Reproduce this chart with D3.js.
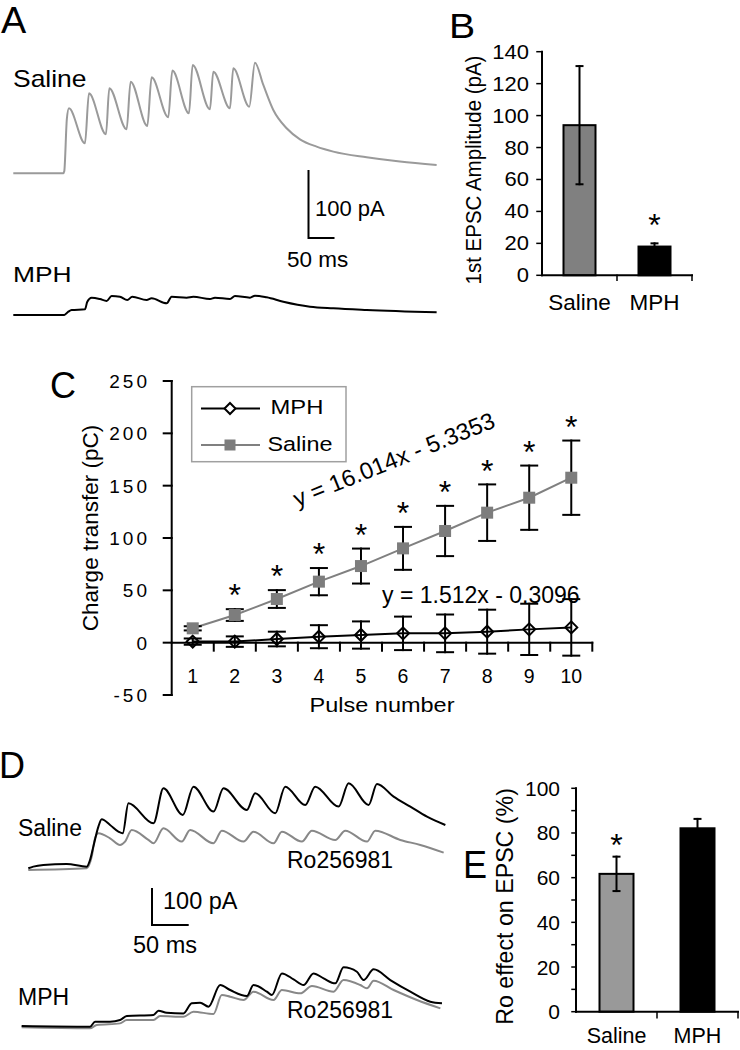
<!DOCTYPE html>
<html><head><meta charset="utf-8">
<script src="https://cdn.jsdelivr.net/npm/d3@7"></script>
<style>
body{margin:0;background:#fff}
text{font-family:"Liberation Sans",Arial,sans-serif;fill:#000}
</style>
</head><body>
<svg id="fig" width="740" height="1050"></svg>
<script>
// ---------------- DATA ----------------
// Panel A traces: [time ms, current pA]
const traceASaline = [[0,0],[96,0],[98,3],[103,80],[107,95.6],[137.8,44.1],[145.5,117.6],[178.2,57.4],[184.6,125],[217.9,64.7],
  [225.6,134.8],[257.7,69.6],[266,141.2],[298,82.4],[305.8,151],[337.8,88.2],[344.9,159.3],[378.2,94.1],[384.6,149.5],
  [416.7,95.6],[423,154.4],[453.8,98],[464.7,162.7],[480.8,129.9],[500,93.1],[525.6,66.2],[551.3,50],[583.3,39.2],
  [615.4,31.9],[679.5,23.5],[743.6,17.2],[814.1,12.3]];
const traceAMph = [[0,0],[98,0],[105.8,4.9],[112.2,7.4],[137.8,8.3],[142.3,19.6],[150.6,25.5],[166.7,23.5],[179.5,20.6],
  [189.1,27.9],[205.1,26.9],[219.2,22.1],[228.8,26.9],[256.4,22.1],[266,24.5],[294.9,17.2],[304.5,26.9],[333.3,25.5],
  [346.2,26.9],[378.2,23.5],[387.8,25.5],[416.7,23.5],[426.3,27.9],[455.1,25.5],[464.7,28.4],[487.2,26],[519.2,19.6],
  [570.5,12.3],[615.4,9.8],[679.5,7.4],[814.1,3.9]];

// Panel B
const bCategories = ["Saline","MPH"];
const bValues = [94, 18];
const bErrors = [37, 2];
const bTicks = [0,20,40,60,80,100,120,140];
const bSignificant = [false, true];

// Panel C
const pulses = [1,2,3,4,5,6,7,8,9,10];
const mphCharge = [1, 1, 3.5, 5.7, 7.3, 8.9, 8.9, 10.5, 12.7, 14.6];
const mphErr = [3, 5, 7, 11, 13, 16, 18, 21, 24.5, 27];
const salineCharge = [13.7, 26.4, 41.7, 58.3, 73.2, 90.1, 106.7, 124.2, 138.5, 157.6];
const salineErr = [2, 5.6, 8.5, 13, 16.7, 20.5, 24, 27, 30.7, 35.5];
const salineSignificant = [false, true, true, true, true, true, true, true, true, true];
const cTicks = [-50, 0, 50, 100, 150, 200, 250];
const fitSaline = "y = 16.014x - 5.3353";
const fitMph = "y = 1.512x - 0.3096";

// Panel D traces: [time ms, current pA]
const traceDSalineCtrl = [[0,0],[6.8,4.5],[20.5,9],[52.3,11.7],[79.5,4.5],[84.1,22.5],[88.6,58.6],[95.5,112.6],[100,132.4],
  [111.4,117.1],[122.7,99.1],[128.6,94.6],[136.4,175.7],[170.5,121.6],[184.1,216.2],[210.5,144.1],[225,220.7],
  [252.3,153.2],[265.9,216.2],[297.7,157.7],[309.1,202.7],[336.4,148.6],[350,220.7],[377.3,171.2],[390.9,220.7],
  [422.7,166.7],[436.4,229.7],[463.6,171.2],[475,227.9],[497.7,193.7],[520.5,166.7],[543.2,139.6],[568.2,117.1]];
const traceDSalineRo = [[0,-4.5],[79.5,0],[86.4,31.5],[90.9,81.1],[95.5,94.6],[111.4,81.1],[125,63.1],[131.8,72.1],
  [140.9,103.6],[163.6,76.6],[170.5,67.6],[184.1,108.1],[209.1,72.1],[220.5,103.6],[252.3,67.6],[263.6,101.8],
  [293.2,72.1],[306.8,99.1],[334.1,67.6],[345.5,99.1],[372.7,72.1],[386.4,101.8],[418.2,76.6],[431.8,101.8],
  [461.4,72.1],[472.7,101.8],[506.8,76.6],[534.1,63.1],[565.9,42.3]];
const traceDMphCtrl = [[-9.1,1.8],[84.1,0],[90.9,13.5],[111.4,13.5],[125,18],[134.1,28.8],[170.5,31.5],[177.3,43.2],
  [188.6,37.8],[211.4,36],[222.7,63.1],[234.1,64.9],[245.5,54.1],[261.4,112.6],[275,99.1],[297.7,82.9],[306.8,112.6],
  [325,94.6],[331.8,85.6],[345.5,144.1],[361.4,127.9],[375,112.6],[388.6,144.1],[402.3,130.6],[418.2,117.1],
  [429.5,160.4],[447.7,148.6],[456.8,126.1],[470.5,155],[493.2,126.1],[520.5,94.6],[547.7,67.6],[563.6,63.1]];
const traceDMphRo = [[-9.1,-1.8],[84.1,-4.5],[93.2,4.5],[125,9],[134.1,18],[170.5,18],[179.5,28.8],[211.4,27],
  [225,40.5],[252.3,34.2],[263.6,85.6],[275,81.1],[293.2,72.1],[306.8,94.6],[334.1,72.1],[345.5,99.1],[370.5,90.1],
  [386.4,109.9],[415.9,94.6],[429.5,126.1],[452.3,112.6],[461.4,103.6],[470.5,124.3],[497.7,99.1],[529.5,72.1],[561.4,49.5]];

// Panel E
const eCategories = ["Saline","MPH"];
const eValues = [61.7, 82.1];
const eErrors = [7.7, 4.2];
const eTicks = [0,20,40,60,80,100];
const eMinorTicks = [0,10,20,30,40,50,60,70,80,90,100];
const eSignificant = [true, false];

// Scale bars
const scaleBarPA = 100, scaleBarMS = 50;

// ---------------- DRAW ----------------
const svg = d3.select("#fig");

function txt(x, y, s, size, opt = {}) {
  const t = svg.append("text").attr("font-size", size).text(s)
    .attr("text-anchor", opt.anchor || "start");
  const sx = opt.sx || 1, sy = opt.sy || 1, rot = opt.rot || 0;
  t.attr("transform", `translate(${x},${y}) rotate(${rot}) scale(${sx},${sy})`);
  if (opt.ls) t.attr("letter-spacing", opt.ls);
  if (opt.fill) t.style("fill", opt.fill);
  return t;
}
function line(x1, y1, x2, y2, w = 2, c = "#000") {
  svg.append("line").attr("x1", x1).attr("y1", y1).attr("x2", x2).attr("y2", y2)
    .attr("stroke", c).attr("stroke-width", w).attr("stroke-linecap", "square");
}
function trace(data, xs, ys, color, w = 2) {
  svg.append("path").datum(data)
    .attr("d", d3.line().x(d => xs(d[0])).y(d => ys(d[1])).curve(d3.curveMonotoneX))
    .attr("fill", "none").attr("stroke", color).attr("stroke-width", w).attr("stroke-linejoin", "round");
}
function star(x, yCenter, size = 32) {
  txt(x, yCenter + size * 0.57, "*", size, {anchor: "middle"});
}

// ===== Panel A =====
const xA = d3.scaleLinear().domain([0, 50]).range([13.3, 39.3]);
const yASal = d3.scaleLinear().domain([0, 100]).range([173.3, 105.3]);
const yAMph = d3.scaleLinear().domain([0, 100]).range([315, 247]);
txt(1, 33, "A", 36, {sx: 1.05});
txt(13, 87, "Saline", 23, {sx: 1.15});
txt(13, 282, "MPH", 22, {sx: 1.2});
trace(traceASaline, xA, yASal, "#9a9a9a", 2);
trace(traceAMph, xA, yAMph, "#000", 2);
{
  const ox = 308.5, oy = 238;
  const h = yASal(0) - yASal(scaleBarPA), w = xA(scaleBarMS) - xA(0);
  svg.append("path").attr("d", `M${ox},${oy - h}V${oy}H${ox + w}`).attr("fill", "none").attr("stroke", "#000").attr("stroke-width", 2);
  txt(315, 216, scaleBarPA + " pA", 22);
  txt(287, 267, scaleBarMS + " ms", 22.5);
}

// ===== Panel B =====
txt(449, 38, "B", 35, {sx: 1.12});
const xB = d3.scaleBand().domain(bCategories).range([542, 692]);
const yB = d3.scaleLinear().domain([0, 140]).range([275.3, 51.7]);
{
  const barW = 32;
  const fills = ["#808080", "#000"];
  bCategories.forEach((c, i) => {
    const cx = xB(c) + xB.bandwidth() / 2;
    svg.append("rect").attr("x", cx - barW / 2).attr("y", yB(bValues[i]))
      .attr("width", barW).attr("height", yB(0) - yB(bValues[i]))
      .attr("fill", fills[i]).attr("stroke", "#000").attr("stroke-width", 2);
    line(cx, yB(bValues[i] + bErrors[i]), cx, yB(bValues[i] - bErrors[i]), 2);
    line(cx - 3, yB(bValues[i] + bErrors[i]), cx + 3, yB(bValues[i] + bErrors[i]), 2);
    line(cx - 3, yB(bValues[i] - bErrors[i]), cx + 3, yB(bValues[i] - bErrors[i]), 2);
    if (bSignificant[i]) star(cx, yB(bValues[i] + bErrors[i]) - 26);
    txt(cx, 310, c, 22.5, {anchor: "middle"});
  });
  line(542, yB(140), 542, yB(0), 2);
  line(542, yB(0), 692, yB(0), 2);
  bTicks.forEach(v => {
    line(537, yB(v), 542, yB(v), 1.5);
    txt(529, yB(v) + 7, String(v), 20, {anchor: "end", sx: 1.1});
  });
  [xB("MPH"), 692].forEach(x => line(x, yB(0), x, yB(0) + 5, 1.5));
  txt(481, 170, "1st EPSC Amplitude (pA)", 20.5, {anchor: "middle", rot: -90, sy: 1.12});
}

// ===== Panel C =====
txt(50, 398, "C", 36);
const xC = d3.scaleBand().domain(pulses).range([171.7, 592.3]);
const yC = d3.scaleLinear().domain([-50, 250]).range([695, 381]);
const cx = p => xC(p) + xC.bandwidth() / 2;
{
  line(171.7, yC(250), 171.7, yC(-50), 2);
  line(171.7, yC(0), 592.3, yC(0), 2);
  cTicks.forEach(v => {
    line(163.7, yC(v), 171.7, yC(v), 2);
    txt(150, yC(v) + 7, String(v), 19, {anchor: "end", ls: 3});
  });
  pulses.forEach(p => {
    line(xC(p) + xC.bandwidth(), yC(0), xC(p) + xC.bandwidth(), yC(0) + 8, 2);
    txt(cx(p), 683, String(p), 19.5, {anchor: "middle"});
  });
  txt(382, 712, "Pulse number", 21, {anchor: "middle", sx: 1.12});
  txt(98, 528, "Charge transfer (pC)", 22.5, {anchor: "middle", rot: -90});

  // connecting lines
  svg.append("path").datum(pulses)
    .attr("d", d3.line().x(p => cx(p)).y((p, i) => yC(salineCharge[i])))
    .attr("fill", "none").attr("stroke", "#808080").attr("stroke-width", 2);
  svg.append("path").datum(pulses)
    .attr("d", d3.line().x(p => cx(p)).y((p, i) => yC(mphCharge[i])))
    .attr("fill", "none").attr("stroke", "#000").attr("stroke-width", 2);

  const cap = 8;
  // MPH error bars + diamonds
  pulses.forEach((p, i) => {
    const x = cx(p), t = yC(mphCharge[i] + mphErr[i]), b = yC(mphCharge[i] - mphErr[i]);
    line(x, t, x, b, 2); line(x - cap, t, x + cap, t, 2); line(x - cap, b, x + cap, b, 2);
    const y = yC(mphCharge[i]), r = 6;
    svg.append("path").attr("d", `M${x},${y - r}L${x + r},${y}L${x},${y + r}L${x - r},${y}Z`)
      .attr("fill", "none").attr("stroke", "#000").attr("stroke-width", 2);
  });
  // Saline error bars + squares
  pulses.forEach((p, i) => {
    const x = cx(p), t = yC(salineCharge[i] + salineErr[i]), b = yC(salineCharge[i] - salineErr[i]);
    line(x, t, x, b, 2); line(x - cap, t, x + cap, t, 2); line(x - cap, b, x + cap, b, 2);
    const y = yC(salineCharge[i]), s = 12;
    svg.append("rect").attr("x", x - s / 2).attr("y", y - s / 2).attr("width", s).attr("height", s)
      .attr("fill", "#7d7d7d");
    if (salineSignificant[i]) star(x, t - 21);
  });

  // fit equations
  txt(0, 8, fitSaline, 23.5, {anchor: "middle"}).attr("transform", "translate(397,467) rotate(-22)");
  txt(382, 603, fitMph, 23);

  // legend
  svg.append("rect").attr("x", 191.7).attr("y", 386.7).attr("width", 154.3).attr("height", 75)
    .attr("fill", "#fff").attr("stroke", "#a0a0a0").attr("stroke-width", 1.5);
  line(202, 408.5, 259, 408.5, 2, "#000");
  svg.append("path").attr("d", "M230,403L235.5,408.5L230,414L224.5,408.5Z").attr("fill", "#fff").attr("stroke", "#000").attr("stroke-width", 2);
  txt(270.5, 413.5, "MPH", 19.5, {sx: 1.22});
  line(202, 445, 259, 445, 2, "#808080");
  svg.append("rect").attr("x", 224.5).attr("y", 439.5).attr("width", 11).attr("height", 11).attr("fill", "#7d7d7d");
  txt(267.5, 451, "Saline", 19.5, {sx: 1.2});
}

// ===== Panel D =====
txt(-1, 778, "D", 36);
const xD = d3.scaleLinear().domain([0, 50]).range([28.3, 65]);
const yDSal = d3.scaleLinear().domain([0, 100]).range([868.3, 831.3]);
const yDMph = d3.scaleLinear().domain([0, 100]).range([1026.7, 989.7]);
trace(traceDSalineRo, xD, yDSal, "#888", 2);
trace(traceDSalineCtrl, xD, yDSal, "#000", 2);
trace(traceDMphRo, xD, yDMph, "#888", 2);
trace(traceDMphCtrl, xD, yDMph, "#000", 2);
txt(18, 836, "Saline", 23);
txt(287, 868, "Ro256981", 23);
txt(18, 1005, "MPH", 23);
txt(287, 1018, "Ro256981", 23);
{
  const ox = 152, oy = 925;
  const h = yDSal(0) - yDSal(scaleBarPA), w = xD(scaleBarMS) - xD(0);
  svg.append("path").attr("d", `M${ox},${oy - h}V${oy}H${ox + w}`).attr("fill", "none").attr("stroke", "#000").attr("stroke-width", 2);
  txt(163, 909, scaleBarPA + " pA", 23.5);
  txt(133, 953, scaleBarMS + " ms", 23.5);
}

// ===== Panel E =====
txt(463, 878, "E", 38, {sx: 0.95});
const xE = d3.scaleBand().domain(eCategories).range([576, 738]);
const yE = d3.scaleLinear().domain([0, 100]).range([1011.7, 788.3]);
{
  const barW = 34;
  const fills = ["#999999", "#000"];
  eCategories.forEach((c, i) => {
    const x = xE(c) + xE.bandwidth() / 2;
    svg.append("rect").attr("x", x - barW / 2).attr("y", yE(eValues[i]))
      .attr("width", barW).attr("height", yE(0) - yE(eValues[i]))
      .attr("fill", fills[i]).attr("stroke", "#000").attr("stroke-width", 2);
    const t = yE(eValues[i] + eErrors[i]), b = yE(eValues[i] - eErrors[i]);
    line(x, t, x, b, 2); line(x - 3, t, x + 3, t, 2); line(x - 3, b, x + 3, b, 2);
    if (eSignificant[i]) star(x, t - 19);
    txt(x, 1043, c, 21.5, {anchor: "middle"});
  });
  line(576, yE(100), 576, yE(0), 2);
  line(576, yE(0), 738, yE(0), 2);
  eMinorTicks.forEach(v => line(572, yE(v), 576, yE(v), 1.5));
  eTicks.forEach(v => txt(560, yE(v) + 7.5, String(v), 21, {anchor: "end"}));
  [xE("MPH"), 738].forEach(x => line(x, yE(0), x, yE(0) + 6, 1.5));
  txt(513, 906.5, "Ro effect on EPSC (%)", 23.2, {anchor: "middle", rot: -90});
}
</script>
</body></html>
